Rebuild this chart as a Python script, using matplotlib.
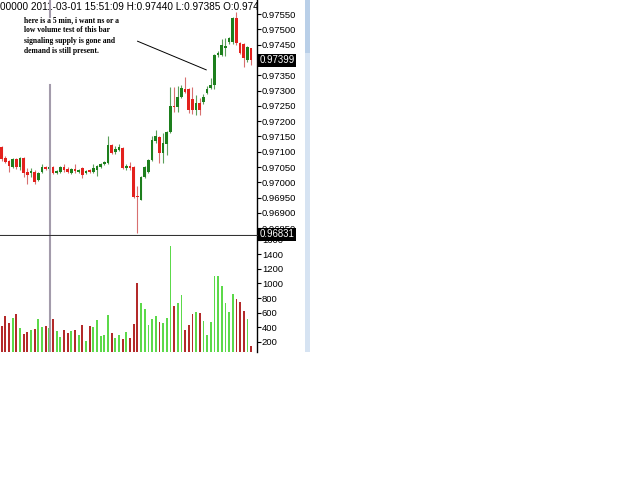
import numpy as np
import matplotlib.pyplot as plt
from matplotlib.patches import Rectangle

# 5 min bars, oldest first
opens = [0.97114, 0.97080, 0.97070, 0.97051, 0.97075, 0.97049, 0.97080, 0.97035, 0.97030, 0.97035,
         0.97008, 0.97033, 0.97049, 0.97043, 0.97051, 0.97030, 0.97033, 0.97051, 0.97043, 0.97029,
         0.97043, 0.97035, 0.97046, 0.97030, 0.97040, 0.97035, 0.97040, 0.97050, 0.97059, 0.97064,
         0.97122, 0.97100, 0.97106, 0.97111, 0.97046, 0.97053, 0.97051, 0.96955, 0.96944, 0.97018,
         0.97035, 0.97073, 0.97135, 0.97149, 0.97095, 0.97127, 0.97165, 0.97250, 0.97247, 0.97280,
         0.97304, 0.97304, 0.97274, 0.97236, 0.97259, 0.97264, 0.97292, 0.97308, 0.97318, 0.97416,
         0.97416, 0.97440, 0.97458, 0.97458, 0.97536, 0.97454, 0.97451, 0.97400, 0.97440]
highs = [0.97118, 0.97085, 0.97073, 0.97080, 0.97080, 0.97083, 0.97083, 0.97046, 0.97046, 0.97040,
         0.97035, 0.97059, 0.97053, 0.97052, 0.97053, 0.97040, 0.97052, 0.97059, 0.97051, 0.97046,
         0.97061, 0.97043, 0.97049, 0.97040, 0.97043, 0.97061, 0.97056, 0.97063, 0.97070, 0.97151,
         0.97125, 0.97119, 0.97124, 0.97114, 0.97061, 0.97067, 0.97053, 0.96988, 0.97021, 0.97053,
         0.97076, 0.97151, 0.97171, 0.97151, 0.97161, 0.97168, 0.97312, 0.97311, 0.97315, 0.97318,
         0.97343, 0.97307, 0.97312, 0.97285, 0.97275, 0.97290, 0.97315, 0.97340, 0.97420, 0.97430,
         0.97470, 0.97472, 0.97475, 0.97540, 0.97558, 0.97458, 0.97455, 0.97446, 0.97440]
lows = [0.97070, 0.97062, 0.97035, 0.97048, 0.97045, 0.97040, 0.97018, 0.96994, 0.97018, 0.96994,
        0.97005, 0.97030, 0.97040, 0.97040, 0.97026, 0.97026, 0.97030, 0.97035, 0.97029, 0.97026,
        0.97029, 0.97031, 0.97013, 0.97026, 0.97030, 0.97029, 0.97022, 0.97046, 0.97056, 0.97060,
        0.97092, 0.97092, 0.97102, 0.97043, 0.97040, 0.97040, 0.96948, 0.96833, 0.96941, 0.97015,
        0.97030, 0.97070, 0.97130, 0.97063, 0.97063, 0.97089, 0.97160, 0.97230, 0.97231, 0.97276,
        0.97292, 0.97226, 0.97225, 0.97220, 0.97220, 0.97255, 0.97290, 0.97305, 0.97305, 0.97410,
        0.97412, 0.97412, 0.97452, 0.97452, 0.97450, 0.97418, 0.97378, 0.97394, 0.97385]
closes = [0.97075, 0.97067, 0.97053, 0.97076, 0.97049, 0.97080, 0.97029, 0.97024, 0.97037, 0.97002,
          0.97031, 0.97049, 0.97043, 0.97049, 0.97029, 0.97037, 0.97049, 0.97040, 0.97035, 0.97043,
          0.97037, 0.97040, 0.97024, 0.97037, 0.97033, 0.97046, 0.97053, 0.97060, 0.97067, 0.97122,
          0.97097, 0.97108, 0.97114, 0.97046, 0.97053, 0.97046, 0.96951, 0.96951, 0.97018, 0.97049,
          0.97073, 0.97138, 0.97151, 0.97097, 0.97128, 0.97165, 0.97249, 0.97245, 0.97280, 0.97307,
          0.97296, 0.97236, 0.97236, 0.97259, 0.97236, 0.97280, 0.97305, 0.97318, 0.97416, 0.97422,
          0.97449, 0.97447, 0.97471, 0.97536, 0.97454, 0.97422, 0.97405, 0.97443, 0.97399]
volumes = [416, 553, 461, 530, 580, 384, 302, 337, 361, 379,
           512, 402, 420, 384, 508, 351, 269, 361, 324, 351,
           361, 292, 425, 214, 416, 402, 494, 278, 292, 567,
           320, 247, 296, 241, 337, 255, 447, 1010, 736, 645,
           429, 516, 549, 466, 457, 526, 1510, 695, 732, 837,
           361, 434, 576, 604, 594, 484, 292, 466, 1102, 1102,
           965, 736, 612, 855, 787, 750, 617, 508, 145]

price_ticks = [0.97550, 0.97500, 0.97450, 0.97400, 0.97350, 0.97300, 0.97250, 0.97200,
               0.97150, 0.97100, 0.97050, 0.97000, 0.96950, 0.96900, 0.96850]
volume_ticks = [200, 400, 600, 800, 1000, 1200, 1400, 1600]
last_price = 0.97399
low_price = 0.96831
header = "00000 2011-03-01 15:51:09 H:0.97440 L:0.97385 O:0.97440"
note = ("here is a 5 min, i want ns or a\nlow volume test of this bar\n"
        "signaling supply is gone and\ndemand is still present.")

plt.rcParams['font.family'] = ['Liberation Sans', 'DejaVu Sans']

W, H = 625, 483
fig = plt.figure(figsize=(W / 100, H / 100), dpi=100)
ax = fig.add_axes([0, (H - 235) / H, 257 / W, 235 / H])
axv = fig.add_axes([0, (H - 352) / H, 257 / W, 116 / H], sharex=ax)

o = np.array(opens)
c = np.array(closes)
x = np.arange(len(o))
up = c >= o
body_col = np.where(up, '#1d7f1d', '#e3211d')
wick_col = np.where(up, '#5a9f5a', '#d87070')
vol_col = np.where(up, '#5cd94a', '#b32a2a')

ax.vlines(x, lows, highs, colors=wick_col, linewidth=0.8, zorder=2)
bottom = np.minimum(o, c)
height = np.maximum(np.abs(c - o), 0.00003)
ax.bar(x, height, bottom=bottom, width=0.72, color=body_col, zorder=3)

axv.bar(x, volumes, width=0.5, color=vol_col, zorder=2)

ax.set_xlim(-0.46, 69.6)
ax.set_ylim(0.96828, 0.97596)
axv.set_ylim(58, 1652)

for a in (ax, axv):
    for s in ('left', 'top', 'bottom'):
        a.spines[s].set_visible(False)
    a.spines['right'].set_color('black')
    a.spines['right'].set_linewidth(1.0)
    a.yaxis.tick_right()
    a.tick_params(axis='y', direction='out', length=3, width=0.8, pad=0.5, labelsize=6.8)
    a.tick_params(axis='x', bottom=False, labelbottom=False)
ax.spines['bottom'].set_visible(True)
ax.spines['bottom'].set_color('#333333')

# the 0.97400 label sits under the last-price box
ax.set_yticks(price_ticks)
ax.set_yticklabels(['' if abs(t - 0.974) < 1e-9 else '%.5f' % t for t in price_ticks])
axv.set_yticks(volume_ticks)
axv.set_yticklabels([str(t) for t in volume_ticks])

# cursor line (broken behind the note)
cx = 13.16
ax.axvline(cx, ymin=0.0, ymax=0.638, color='#a39bab', linewidth=1.5, zorder=4)
ax.axvline(cx, ymin=0.928, ymax=1.0, color='#a39bab', linewidth=1.5, zorder=4)
axv.axvline(cx, color='#a39bab', linewidth=1.5, zorder=4)

ax.text(0.0, 1 - 7 / 235, header, transform=ax.transAxes, ha='left', va='center',
        fontsize=7.2, color='black', clip_on=True, zorder=1)

ax.text(24 / 257, 1 - 16 / 235, note, transform=ax.transAxes, ha='left', va='top',
        fontsize=5.5, fontweight='bold', family='Liberation Serif', linespacing=1.38)
ax.annotate('', xy=(56.5, 0.97364), xytext=(36.3, 0.97465),
            arrowprops=dict(arrowstyle='-', color='black', linewidth=0.7))

box = dict(boxstyle='square,pad=0.15', fc='black', ec='none')
ax.text(1.01, last_price, '%.5f' % last_price, transform=ax.get_yaxis_transform(),
        ha='left', va='center', color='white', fontsize=6.9, bbox=box, clip_on=False, zorder=10)
ax.text(1.01, low_price, '%.5f' % low_price, transform=ax.get_yaxis_transform(),
        ha='left', va='center', color='white', fontsize=6.9, bbox=box, clip_on=False, zorder=10)

# scrollbar strip at the right of the chart window
fig.patches.append(Rectangle((305 / W, (H - 352) / H), 5 / W, 352 / H,
                             transform=fig.transFigure, fc='#d6e3f2', ec='none'))
fig.patches.append(Rectangle((305 / W, (H - 53) / H), 5 / W, 53 / H,
                             transform=fig.transFigure, fc='#b9cfe8', ec='none'))

fig.savefig('out.png', dpi=100)
